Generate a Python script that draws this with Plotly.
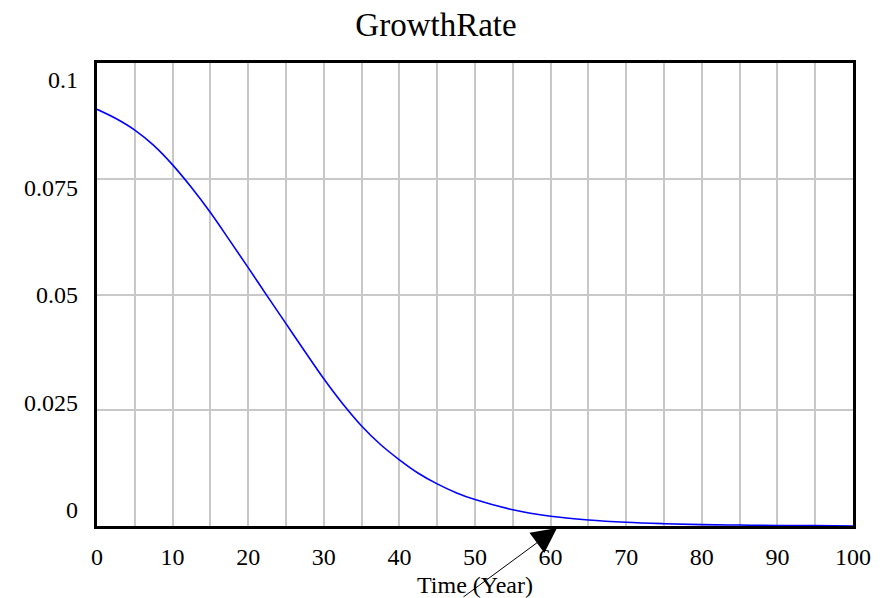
import plotly.graph_objects as go

# Data
time_years = [0, 2.5, 5, 7.5, 10, 12.5, 15, 17.5, 20, 22.5, 25, 27.5, 30, 32.5,
              35, 37.5, 40, 42.5, 45, 47.5, 50, 55, 60, 65, 70, 75, 80, 85, 90,
              95, 100]
growth_rate = [0.0900, 0.0880, 0.0855, 0.0822, 0.0780, 0.0731, 0.0677, 0.0618,
               0.0558, 0.0497, 0.0437, 0.0377, 0.0318, 0.0264, 0.0216, 0.0176,
               0.0143, 0.0114, 0.0091, 0.0072, 0.0057, 0.0035, 0.0021, 0.0013,
               0.0008, 0.0005, 0.0003, 0.0002, 0.0001, 0.0001, 0.0000]
y_tick_vals = [0, 0.025, 0.05, 0.075, 0.1]
y_tick_text = ["0", "0.025", "0.05", "0.075", "0.1"]
x_tick_vals = [0, 10, 20, 30, 40, 50, 60, 70, 80, 90, 100]
arrow_target = (60.85, 0.0)

FONT = "Liberation Serif, Times New Roman, serif"
GRID = "#c8c8c8"

fig = go.Figure()
fig.add_trace(go.Scatter(
    x=time_years, y=growth_rate, mode="lines",
    line=dict(color="#0000ff", width=1.6, shape="spline", smoothing=1.0),
    cliponaxis=False, showlegend=False, hoverinfo="x+y",
))
# helper trace so the label axis is drawn
fig.add_trace(go.Scatter(x=[None], y=[None], yaxis="y2", showlegend=False,
                         hoverinfo="skip"))

fig.update_layout(
    width=888, height=598,
    margin=dict(l=97, r=35, t=63, b=72, autoexpand=False),
    paper_bgcolor="white", plot_bgcolor="white",
    font=dict(family=FONT, size=24, color="black"),
    title=dict(text="GrowthRate", x=0.491, xanchor="center",
               y=1 - 24 / 598, yanchor="middle", yref="container",
               font=dict(family=FONT, size=33, color="black")),
    xaxis=dict(
        range=[0, 100], tickvals=x_tick_vals, ticks="", automargin=False,
        showgrid=True, gridcolor=GRID, gridwidth=1.5,
        minor=dict(dtick=5, tick0=0, showgrid=True, gridcolor=GRID, gridwidth=1.5),
        zeroline=False, showline=True, linecolor="black", linewidth=3,
        mirror=True, layer="below traces",
        ticklabelstandoff=7,
        tickfont=dict(family=FONT, size=24),
        title=dict(text="Time (Year)", standoff=9,
                   font=dict(family=FONT, size=24)),
    ),
    yaxis=dict(
        range=[0, 0.1], tickvals=[0.025, 0.05, 0.075], showticklabels=False,
        ticks="", showgrid=True, gridcolor=GRID, gridwidth=1.5, automargin=False,
        zeroline=False, showline=True, linecolor="black", linewidth=3,
        mirror=True, layer="below traces",
    ),
    yaxis2=dict(
        overlaying="y", side="left", range=[-0.00372, 0.10395],
        tickvals=y_tick_vals, ticktext=y_tick_text, ticks="", automargin=False,
        showgrid=False, zeroline=False, showline=False,
        ticklabelstandoff=18,
        tickfont=dict(family=FONT, size=24),
    ),
    annotations=[dict(
        x=arrow_target[0], y=arrow_target[1], xref="x", yref="y",
        ax=-95, ay=70, yshift=-2, text="", showarrow=True,
        arrowhead=2, arrowsize=5, arrowwidth=1, arrowcolor="black",
        standoff=0,
    )],
)

fig.write_html("out.html")
